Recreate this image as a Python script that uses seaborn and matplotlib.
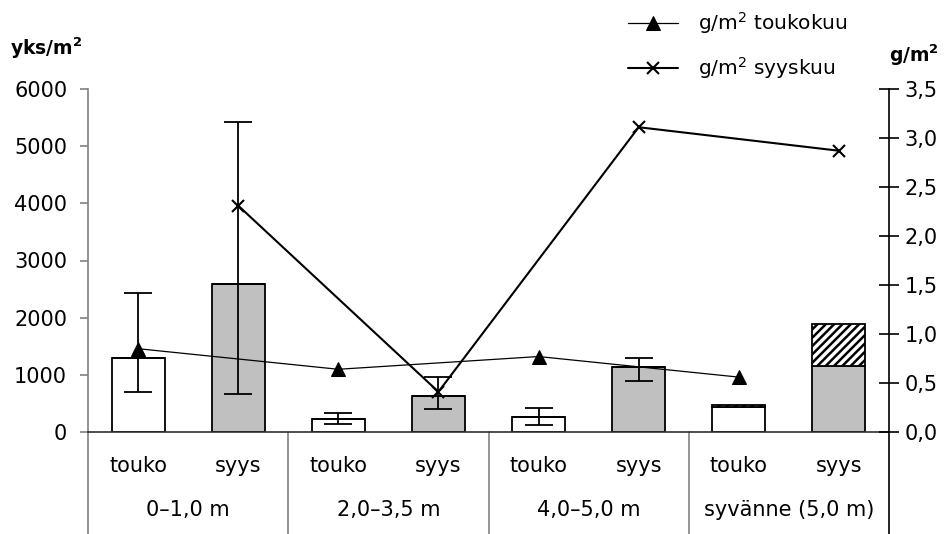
import numpy as np
import pandas as pd
import matplotlib
matplotlib.use("Agg")
import matplotlib.pyplot as plt
import matplotlib.transforms as mtransforms
import seaborn as sns

# --- data -------------------------------------------------------------
depths = ["0–1,0 m", "2,0–3,5 m", "4,0–5,0 m", "syvänne (5,0 m)"]
seasons = ["touko", "syys"]

# individuals per m2 (left axis), one value per depth/season bar
yks_base = [1300, 2590, 230, 630, 265, 1130, 440, 1150]
# hatched upper part stacked on top of the base bar
yks_extra = [0, 0, 0, 0, 0, 0, 30, 740]
# error bar ends
err_low = [700, 670, 135, 400, 130, 895, np.nan, np.nan]
err_high = [2430, 5430, 340, 965, 425, 1295, np.nan, np.nan]

# biomass g/m2 (right axis)
g_touko = [0.85, 0.64, 0.77, 0.56]
g_syys = [2.31, 0.41, 3.11, 2.87]

left_ticks = [0, 1000, 2000, 3000, 4000, 5000, 6000]
right_ticks = [0.0, 0.5, 1.0, 1.5, 2.0, 2.5, 3.0, 3.5]

# --- table --------------------------------------------------------------
keys = [f"{d} {s}" for d in depths for s in seasons]
df = pd.DataFrame({
    "key": keys,
    "season": [s for d in depths for s in seasons],
    "depth": [d for d in depths for s in seasons],
    "yks": yks_base,
    "extra": yks_extra,
    "lo": err_low,
    "hi": err_high,
})
pos = np.arange(len(df))

sns.set_style("white")
plt.rcParams["font.family"] = ["DejaVu Sans"]
plt.rcParams["mathtext.fontset"] = "dejavusans"
plt.rcParams["hatch.linewidth"] = 1.8
plt.rcParams["text.color"] = "black"
plt.rcParams["xtick.labelcolor"] = "black"
plt.rcParams["ytick.labelcolor"] = "black"

FS = 15
LEG_FS = 14.5

fig = plt.figure(figsize=(9.44, 5.34), dpi=100)
ax = fig.add_axes([88 / 944, 102 / 534, 801 / 944, 343 / 534])

sns.barplot(data=df, x="key", y="yks", hue="season", order=keys,
            palette={"touko": "white", "syys": "#c0c0c0"}, dodge=False,
            width=0.53, edgecolor="black", linewidth=1.3, errorbar=None,
            legend=False, ax=ax, zorder=2)

# hatched stacked segment
ax.bar(pos, df["extra"], bottom=df["yks"], width=0.53, color="white",
       edgecolor="black", linewidth=1.3, hatch="////", zorder=2)

# error bars
mid = (df["lo"] + df["hi"]) / 2
half = (df["hi"] - df["lo"]) / 2
ax.errorbar(pos, mid, yerr=half, fmt="none", ecolor="black",
            elinewidth=1.3, capsize=10, capthick=1.3, zorder=3)

ax.set_xlim(-0.5, len(df) - 0.5)
ax.set_ylim(0, 6000)
ax.set_yticks(left_ticks)
ax.set_yticklabels([str(v) for v in left_ticks], fontsize=FS)
ax.set_xticks(pos)
ax.set_xticklabels(df["season"], fontsize=FS)
ax.set_xlabel("")
ax.set_ylabel("")
ax.tick_params(axis="x", length=0, pad=17, labelcolor="black")
ax.tick_params(axis="y", direction="out", length=6, width=1.2,
               color="#808080", pad=9, left=True, labelcolor="black")
for side in ("top", "right"):
    ax.spines[side].set_visible(False)
ax.spines["left"].set_color("#808080")
ax.spines["left"].set_linewidth(1.2)
ax.spines["bottom"].set_color("#303030")
ax.spines["bottom"].set_linewidth(1.2)

# group separators below the axis
trans = mtransforms.blended_transform_factory(ax.transData, ax.transAxes)
n_per = len(seasons)
bounds = [g * n_per - 0.5 for g in range(len(depths) + 1)]
for i, b in enumerate(bounds):
    col = "black" if i == len(bounds) - 1 else "#808080"
    ax.plot([b, b], [0, -0.30], transform=trans, color=col, lw=1.2,
            clip_on=False, zorder=1)
for g, d in enumerate(depths):
    ax.text(g * n_per + (n_per - 1) / 2, -0.228, d, transform=trans,
            ha="center", va="center", fontsize=FS, color="black")

# biomass lines on the secondary axis
ax2 = ax.twinx()
sns.lineplot(x=pos[0::2], y=g_touko, ax=ax2, color="black", marker="^",
             markersize=10, markeredgecolor="black", linewidth=0.9,
             label=r"g/m$^2$ toukokuu")
sns.lineplot(x=pos[1::2], y=g_syys, ax=ax2, color="black", marker="x",
             markersize=9, markeredgewidth=1.5, markeredgecolor="black",
             linewidth=1.5, label=r"g/m$^2$ syyskuu")
ax2.set_xlim(-0.5, len(df) - 0.5)
ax2.set_ylim(0, 3.5)
ax2.set_yticks(right_ticks)
ax2.set_yticklabels([f"{v:.1f}".replace(".", ",") for v in right_ticks],
                    fontsize=FS)
ax2.set_ylabel("")
ax2.tick_params(axis="y", direction="inout", length=14, width=1.2,
                color="black", pad=4, right=True, labelcolor="black")
for side in ("top", "left", "bottom"):
    ax2.spines[side].set_visible(False)
ax2.spines["right"].set_color("black")
ax2.spines["right"].set_linewidth(1.2)

leg = ax2.legend(loc="upper left", bbox_to_anchor=(628 / 944, 1 - 10 / 534),
                 bbox_transform=fig.transFigure, frameon=False,
                 fontsize=LEG_FS, handlelength=2.5, handletextpad=1.0,
                 labelspacing=0.95, borderpad=0, borderaxespad=0)
for t in leg.get_texts():
    t.set_color("black")

fig.text(10 / 944, 1 - 48 / 534, r"yks/m$^\mathbf{2}$", fontsize=13.5,
         fontweight="bold", ha="left", va="center", color="black")
fig.text(939 / 944, 1 - 55 / 534, r"g/m$^\mathbf{2}$", fontsize=13.5,
         fontweight="bold", ha="right", va="center", color="black")

fig.savefig("out.png", dpi=100)
